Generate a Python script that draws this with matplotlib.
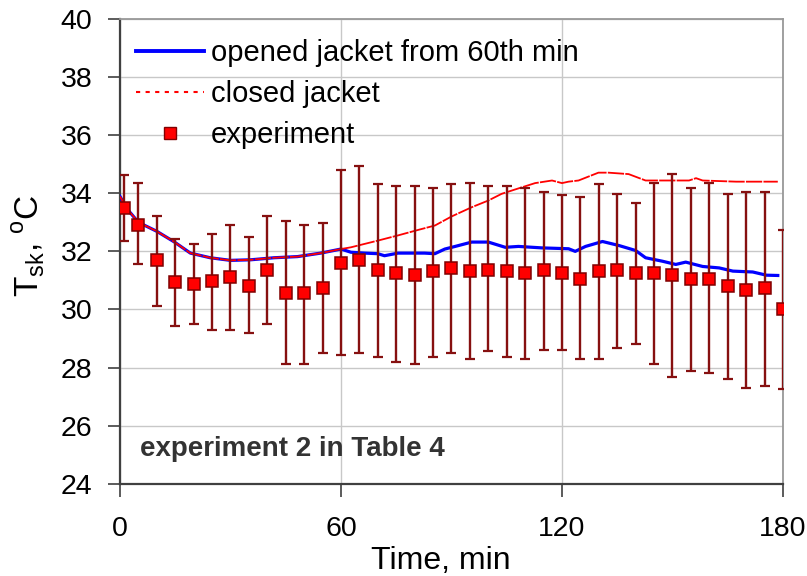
import matplotlib
matplotlib.use("Agg")
import matplotlib.pyplot as plt
from matplotlib.lines import Line2D
import numpy as np

plt.rcParams["font.family"] = ["Liberation Sans", "DejaVu Sans"]

# ── Data ──────────────────────────────────────────────────────────────────────
# common curve (both variants identical until 60th minute)
t_common = [0, 2, 5, 10, 14.8, 19.1, 24.5, 30, 35.5, 41.8, 48.2, 54.5, 60]
T_common = [33.89, 33.45, 33.0, 32.69, 32.32, 31.94, 31.78, 31.69, 31.71,
            31.78, 31.82, 31.94, 32.08]

t_open = [62.7, 66.4, 70, 71.8, 75.5, 82.7, 85.5, 88.2, 91, 95.5, 100, 104.6,
          108.2, 114.5, 121.8, 123.6, 126.4, 131, 135.5, 140, 142.7, 147.3,
          150.9, 153.6, 158.2, 162.7, 166.4, 171.8, 175.5, 178.6]
T_open = [31.97, 31.94, 31.92, 31.85, 31.94, 31.94, 31.92, 32.08, 32.17, 32.32,
          32.32, 32.14, 32.17, 32.12, 32.09, 32.0, 32.17, 32.34, 32.2, 32.03,
          31.78, 31.66, 31.55, 31.63, 31.48, 31.43, 31.32, 31.29, 31.18, 31.17]

t_closed = [62.7, 70, 75.5, 81, 85.5, 90, 95.5, 100, 103.6, 107, 112.7, 117.3,
            120, 121.8, 124.5, 129.9, 132.6, 138.1, 142.7, 149, 154.5, 156.4,
            158.2, 167.3, 178.6]
T_closed = [32.14, 32.37, 32.55, 32.74, 32.89, 33.2, 33.52, 33.75, 33.98, 34.12,
            34.35, 34.44, 34.35, 34.4, 34.44, 34.71, 34.71, 34.66, 34.44, 34.44,
            34.44, 34.52, 34.44, 34.4, 34.4]

t_exp = [1] + list(range(5, 181, 5))
T_exp = [33.48, 32.92, 31.69, 30.93, 30.86, 30.99, 31.12, 30.80, 31.37, 30.55,
         30.55, 30.75, 31.61, 31.69, 31.37, 31.24, 31.17, 31.31, 31.43, 31.31,
         31.37, 31.31, 31.25, 31.37, 31.25, 31.06, 31.31, 31.37, 31.25, 31.25,
         31.18, 31.06, 31.06, 30.80, 30.68, 30.75, 30.00]
T_hi = [34.62, 34.36, 33.23, 32.42, 32.24, 32.61, 32.92, 32.49, 33.23, 33.05,
        32.92, 32.99, 34.80, 34.93, 34.31, 34.24, 34.24, 34.17, 34.31, 34.37,
        34.24, 34.24, 34.18, 34.06, 33.93, 33.86, 34.31, 33.99, 33.68, 34.37,
        34.68, 34.17, 34.37, 33.99, 34.06, 34.06, 32.74]
T_lo = [32.37, 31.55, 30.12, 29.43, 29.50, 29.30, 29.30, 29.19, 29.50, 28.12,
        28.12, 28.50, 28.43, 28.50, 28.38, 28.19, 28.12, 28.38, 28.50, 28.31,
        28.56, 28.38, 28.31, 28.62, 28.62, 28.31, 28.31, 28.69, 28.81, 28.12,
        27.69, 27.87, 27.81, 27.62, 27.31, 27.36, 27.25]

# ── Figure ────────────────────────────────────────────────────────────────────
fig = plt.figure(figsize=(8.07, 5.76), dpi=100)
ax = fig.add_axes([0.1487, 0.1602, 0.8215, 0.8068])

t_o = np.array(t_common + t_open)
T_o = np.array(T_common + T_open)
t_c = np.array(t_common + t_closed)
T_c = np.array(T_common + T_closed)

ax.plot(t_o, T_o, color="#0000ff", lw=2.3, zorder=3)
ax.plot(t_c, T_c, color="#ff0000", lw=1.3, ls=(0, (9, 0.7)), zorder=4)

T_exp = np.array(T_exp)
yerr = [T_exp - np.array(T_lo), np.array(T_hi) - T_exp]
ax.errorbar(t_exp, T_exp, yerr=yerr, fmt="none", ecolor="#861010",
            elinewidth=1.7, capsize=3.6, capthick=1.6, zorder=5)
ax.plot(t_exp, T_exp, ls="none", marker="s", ms=8.2, mfc="#ff0000",
        mec="#800000", mew=1.1, zorder=6)

ax.set_xlim(0, 180)
ax.set_ylim(24, 40)
ax.set_xticks([0, 60, 120, 180])
ax.set_yticks(range(24, 41, 2))
ax.grid(True, color="#c8c8c8", lw=1.0)
ax.set_axisbelow(True)

for s in ["top", "right"]:
    ax.spines[s].set_color("#999999")
    ax.spines[s].set_linewidth(1.3)
for s in ["left", "bottom"]:
    ax.spines[s].set_color("#404040")
    ax.spines[s].set_linewidth(1.6)

ax.tick_params(axis="y", direction="out", length=9, width=1.2,
               color="#404040", labelsize=20.5, pad=11)
ax.tick_params(axis="x", direction="out", length=9, width=1.2,
               color="#404040", labelsize=20.5, pad=14)

ax.set_xlabel("Time, min", fontsize=23)
ax.xaxis.set_label_coords(0.484, -0.135)
ax.set_ylabel(r"T$_\mathregular{sk}$, $^\mathregular{o}$C", fontsize=24)
ax.yaxis.set_label_coords(-0.11, 0.512)

ax.text(0.03, 0.075, "experiment 2 in Table 4", transform=ax.transAxes,
        fontsize=20, fontweight="bold", color="#333333", va="center")

handles = [
    Line2D([], [], color="#0000ff", lw=2.8),
    Line2D([], [], color="#ff0000", lw=1.5, ls=(0, (2, 2.6))),
    Line2D([], [], ls="none", marker="s", ms=8, mfc="#ff0000",
           mec="#800000", mew=1.0),
]
labels = ["opened jacket from 60th min", "closed jacket", "experiment"]
ax.legend(handles, labels, loc="upper left", bbox_to_anchor=(-0.003, 0.995),
          frameon=False, fontsize=21, handlelength=2.36, handletextpad=0.22,
          labelspacing=0.45, borderaxespad=0.2)

plt.savefig("out.png", dpi=100)
plt.close()
